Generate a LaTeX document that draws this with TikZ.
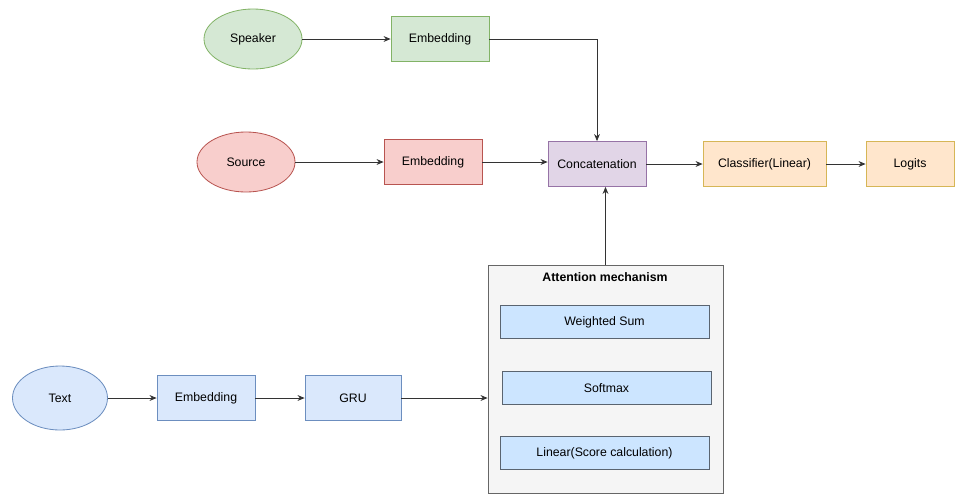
\documentclass[tikz,border=0pt]{standalone}
\usepackage{fontspec}
\setmainfont{Liberation Sans}
\usepackage{xcolor}
\usetikzlibrary{positioning, arrows.meta, calc, shapes.geometric}
\definecolor{grnfill}{HTML}{D5E8D4}
\definecolor{grnline}{HTML}{82B366}
\definecolor{redfill}{HTML}{F8CECC}
\definecolor{redline}{HTML}{B85450}
\definecolor{purfill}{HTML}{E1D5E7}
\definecolor{purline}{HTML}{9673A6}
\definecolor{orgfill}{HTML}{FFE6CC}
\definecolor{orgline}{HTML}{D6B656}
\definecolor{blufill}{HTML}{DAE8FC}
\definecolor{bluline}{HTML}{6C8EBF}
\definecolor{attfill}{HTML}{F5F5F5}
\definecolor{attline}{HTML}{666666}
\definecolor{subfill}{HTML}{CCE5FF}
\definecolor{subline}{HTML}{5A6470}
\definecolor{linkgray}{HTML}{333333}

\tikzset{
  blockbox/.style={draw, line width=0.7pt, minimum width=2.94cm, minimum height=1.35cm, inner sep=2pt},
  inputoval/.style={ellipse, draw, line width=0.7pt, minimum width=2.94cm, minimum height=1.8cm, inner sep=1pt},
  innerbox/.style={draw=subline, fill=subfill, line width=0.7pt, minimum width=6.27cm, minimum height=0.99cm},
  link/.style={draw=linkgray, line width=0.7pt, -{Stealth[length=6pt, width=5pt]}}
}

\begin{document}
\begin{tikzpicture}[x=0.03cm, y=-0.03cm, font=\fontsize{10.5}{12.5}\selectfont]
  \useasboundingbox (0,0) rectangle (955,495);

  % speaker branch
  \node[inputoval, fill=grnfill, draw=grnline] (spk) at (253,39) {Speaker};
  \node[blockbox, fill=grnfill, draw=grnline] (spkemb) at (440,39) {Embedding};

  % source branch
  \node[inputoval, fill=redfill, draw=redline] (src) at (246,162) {Source};
  \node[blockbox, fill=redfill, draw=redline] (srcemb) at (433,162) {Embedding};

  % merge and output
  \node[blockbox, fill=purfill, draw=purline] (concat) at (597,164) {Concatenation};
  \node[blockbox, fill=orgfill, draw=orgline, minimum width=3.69cm] (cls) at (764.5,164) {Classifier(Linear)};
  \node[blockbox, fill=orgfill, draw=orgline, minimum width=2.64cm] (logits) at (910,164) {Logits};

  % attention block
  \node[draw=attline, fill=attfill, line width=0.7pt, minimum width=7.05cm, minimum height=6.84cm] (attn) at (605.5,379) {};
  \node[font=\fontsize{10.5}{12.5}\selectfont\bfseries] (atttitle) at (605,277) {Attention mechanism};
  \node[innerbox] (wsum) at (604.5,322) {Weighted Sum};
  \node[innerbox] (smax) at (606.5,388) {Softmax};
  \node[innerbox] (score) at (604.5,453) {Linear(Score calculation)};

  % text branch
  \node[inputoval, fill=blufill, draw=bluline, minimum width=2.85cm, minimum height=1.92cm] (txt) at (60,398) {Text};
  \node[blockbox, fill=blufill, draw=bluline] (txtemb) at (206,398) {Embedding};
  \node[blockbox, fill=blufill, draw=bluline, minimum width=2.88cm] (gru) at (353,398) {GRU};

  \draw[link] (spk) -- (spkemb);
  \draw[link] (spkemb.east) -| (concat.north);
  \draw[link] (src) -- (srcemb);
  \draw[link] (srcemb) -- (srcemb -| concat.west);
  \draw[link] (concat) -- (concat -| cls.west);
  \draw[link] (cls) -- (logits);
  \draw[link] (attn.north) -- (attn.north |- concat.south);
  \draw[link] (txt) -- (txtemb);
  \draw[link] (txtemb) -- (gru);
  \draw[link] (gru.east) -- (gru.east -| attn.west);
\end{tikzpicture}
\end{document}
